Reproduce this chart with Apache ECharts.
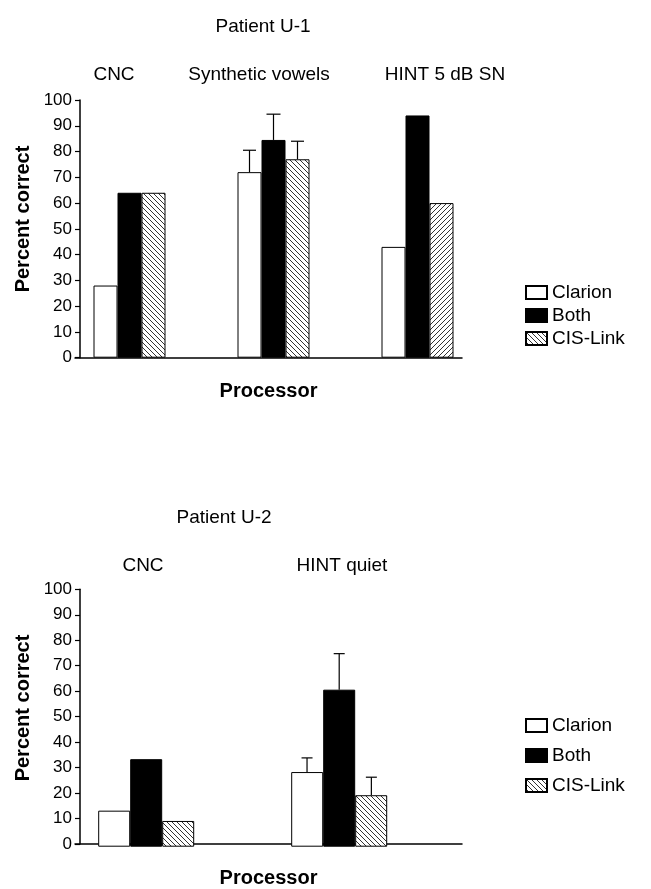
<!DOCTYPE html>
<html>
<head>
<meta charset="utf-8">
<script src="https://cdn.jsdelivr.net/npm/echarts@6/dist/echarts.min.js"></script>
<style>
  html, body { margin: 0; padding: 0; background: #fff; }
  #chart { width: 651px; height: 889px; }
</style>
</head>
<body>
<div id="chart"></div>
<script>
// patient U-1
var u1Categories = ['CNC', 'Synthetic vowels', 'HINT 5 dB SN'];
var u1Clarion = [28, 72, 43];
var u1Both = [64, 84.5, 94];
var u1Cis = [64, 77, 60];
var u1ClarionErr = [null, 80.5, null];
var u1BothErr = [null, 94.5, null];
var u1CisErr = [null, 84, null];

// patient U-2
var u2Categories = ['CNC', 'HINT quiet'];
var u2Clarion = [14, 29];
var u2Both = [34, 61];
var u2Cis = [10, 20];
var u2ClarionErr = [null, 34.5];
var u2BothErr = [null, 75];
var u2CisErr = [null, 27];

var seriesNames = ['Clarion', 'Both', 'CIS-Link'];
var FONT = '"Liberation Sans", Arial, Helvetica, sans-serif';

// hatch fill
function hatch(dir) {
    var s = 5;
    var c = document.createElement('canvas');
    c.width = s; c.height = s;
    var g = c.getContext('2d');
    g.fillStyle = '#fff';
    g.fillRect(0, 0, s, s);
    g.strokeStyle = '#333';
    g.lineWidth = 1;
    g.beginPath();
    if (dir === 'back') {
        g.moveTo(-1, -1); g.lineTo(s + 1, s + 1);
        g.moveTo(-1, s - 1); g.lineTo(1, s + 1);
        g.moveTo(s - 1, -1); g.lineTo(s + 1, 1);
    } else {
        g.moveTo(-1, s + 1); g.lineTo(s + 1, -1);
        g.moveTo(-1, 1); g.lineTo(1, -1);
        g.moveTo(s - 1, s + 1); g.lineTo(s + 1, s - 1);
    }
    g.stroke();
    return { image: c, repeat: 'repeat' };
}
var hatchBack = hatch('back');
var hatchFwd = hatch('fwd');

function errData(vals, errs, slot) {
    var out = [];
    errs.forEach(function (e, i) {
        if (e != null) out.push([i, vals[i], e, slot]);
    });
    return out;
}

function errSeries(xi, yi, data, cap) {
    return {
        type: 'custom',
        xAxisIndex: xi,
        yAxisIndex: yi,
        z: 5,
        data: data,
        renderItem: function (params, api) {
            var band = api.size([1, 0])[0];
            var bw = band / 6;
            var x = api.coord([api.value(0), 0])[0] + (api.value(3) - 1) * bw;
            var yBar = api.coord([api.value(0), api.value(1)])[1];
            var yTop = api.coord([api.value(0), api.value(2)])[1];
            var st = { stroke: '#000', lineWidth: 1.2 };
            return {
                type: 'group',
                children: [
                    { type: 'line', shape: { x1: x, y1: yBar, x2: x, y2: yTop }, style: st },
                    { type: 'line', shape: { x1: x - cap / 2, y1: yTop, x2: x + cap / 2, y2: yTop }, style: st }
                ]
            };
        }
    };
}

function bars(xi, yi, width, clarion, both, cis, cisItems) {
    return [
        {
            name: 'Clarion', type: 'bar', xAxisIndex: xi, yAxisIndex: yi,
            barWidth: width, barGap: '0%',
            itemStyle: { color: '#fff', borderColor: '#000', borderWidth: 1 },
            data: clarion
        },
        {
            name: 'Both', type: 'bar', xAxisIndex: xi, yAxisIndex: yi,
            barWidth: width, barGap: '0%',
            itemStyle: { color: '#000', borderColor: '#000', borderWidth: 1 },
            data: both
        },
        {
            name: 'CIS-Link', type: 'bar', xAxisIndex: xi, yAxisIndex: yi,
            barWidth: width, barGap: '0%',
            itemStyle: { color: hatchBack, borderColor: '#000', borderWidth: 1 },
            data: cisItems || cis
        }
    ];
}

// third U-1 bar hatched the other way
var u1CisItems = u1Cis.map(function (v, i) {
    return i === 2 ? { value: v, itemStyle: { color: hatchFwd } } : v;
});

function hiddenCat(gi, cats) {
    return { type: 'category', gridIndex: gi, data: cats, show: false };
}
function hiddenVal(gi) {
    return { type: 'value', gridIndex: gi, min: 0, max: 100, show: false };
}
function frameX(gi) {
    return {
        type: 'value', gridIndex: gi, min: 0, max: 1,
        axisLine: { show: true, lineStyle: { color: '#000', width: 1.5 } },
        axisTick: { show: false }, axisLabel: { show: false }, splitLine: { show: false },
        name: 'Processor', nameLocation: 'middle', nameGap: 24,
        nameTextStyle: { fontFamily: FONT, fontSize: 20, fontWeight: 'bold', color: '#000' }
    };
}
function frameY(gi) {
    return {
        type: 'value', gridIndex: gi, min: 0, max: 100, interval: 10, offset: -5,
        axisLine: { show: true, lineStyle: { color: '#000', width: 1.5 } },
        axisTick: { show: true, length: 5, lineStyle: { color: '#000', width: 1.2 } },
        axisLabel: { fontFamily: FONT, fontSize: 17, color: '#000', margin: 8 },
        splitLine: { show: false }
    };
}

function text(x, y, str, extra) {
    var st = { text: str, x: 0, y: 0, fill: '#000', font: '19px ' + FONT, textAlign: 'center', textVerticalAlign: 'middle' };
    if (extra) for (var k in extra) st[k] = extra[k];
    return { type: 'text', x: x, y: y, style: st };
}

var u1LabelX = [114, 259, 445];
var u2LabelX = [143, 342];

var graphics = [
    text(263, 27, 'Patient U-1'),
    text(224, 518, 'Patient U-2'),
    { type: 'text', x: 23, y: 219, rotation: Math.PI / 2,
      style: { text: 'Percent correct', fill: '#000', font: 'bold 20px ' + FONT, textAlign: 'center', textVerticalAlign: 'middle' } },
    { type: 'text', x: 23, y: 708, rotation: Math.PI / 2,
      style: { text: 'Percent correct', fill: '#000', font: 'bold 20px ' + FONT, textAlign: 'center', textVerticalAlign: 'middle' } }
];
u1Categories.forEach(function (c, i) { graphics.push(text(u1LabelX[i], 75, c)); });
u2Categories.forEach(function (c, i) { graphics.push(text(u2LabelX[i], 566, c)); });

function legend(top, gap) {
    return {
        data: seriesNames, orient: 'vertical', left: 525, top: top,
        icon: 'rect', itemWidth: 21, itemHeight: 13, itemGap: gap, padding: 0,
        textStyle: { fontFamily: FONT, fontSize: 19, color: '#000' },
        selectedMode: false
    };
}

var chart = echarts.init(document.getElementById('chart'));
var option = {
    backgroundColor: '#fff',
    animation: false,
    grid: [
        { left: 57.5, width: 432, top: 100, height: 257.7 },
        { left: 75, width: 387, top: 100, height: 257.7 },
        { left: 49.7, width: 386, top: 589.3, height: 257.4 },
        { left: 75, width: 387, top: 589.3, height: 257.4 }
    ],
    xAxis: [hiddenCat(0, u1Categories), frameX(1), hiddenCat(2, u2Categories), frameX(3)],
    yAxis: [hiddenVal(0), frameY(1), hiddenVal(2), frameY(3)],
    legend: [legend(283, 4), legend(716, 11)],
    graphic: graphics,
    series: [].concat(
        bars(0, 0, 24, u1Clarion, u1Both, u1Cis, u1CisItems),
        [
            errSeries(0, 0, errData(u1Clarion, u1ClarionErr, 0), 13),
            errSeries(0, 0, errData(u1Both, u1BothErr, 1), 14),
            errSeries(0, 0, errData(u1Cis, u1CisErr, 2), 13)
        ],
        bars(2, 2, 32, u2Clarion, u2Both, u2Cis),
        [
            errSeries(2, 2, errData(u2Clarion, u2ClarionErr, 0), 11),
            errSeries(2, 2, errData(u2Both, u2BothErr, 1), 11),
            errSeries(2, 2, errData(u2Cis, u2CisErr, 2), 11)
        ]
    )
};
chart.setOption(option);
</script>
</body>
</html>
